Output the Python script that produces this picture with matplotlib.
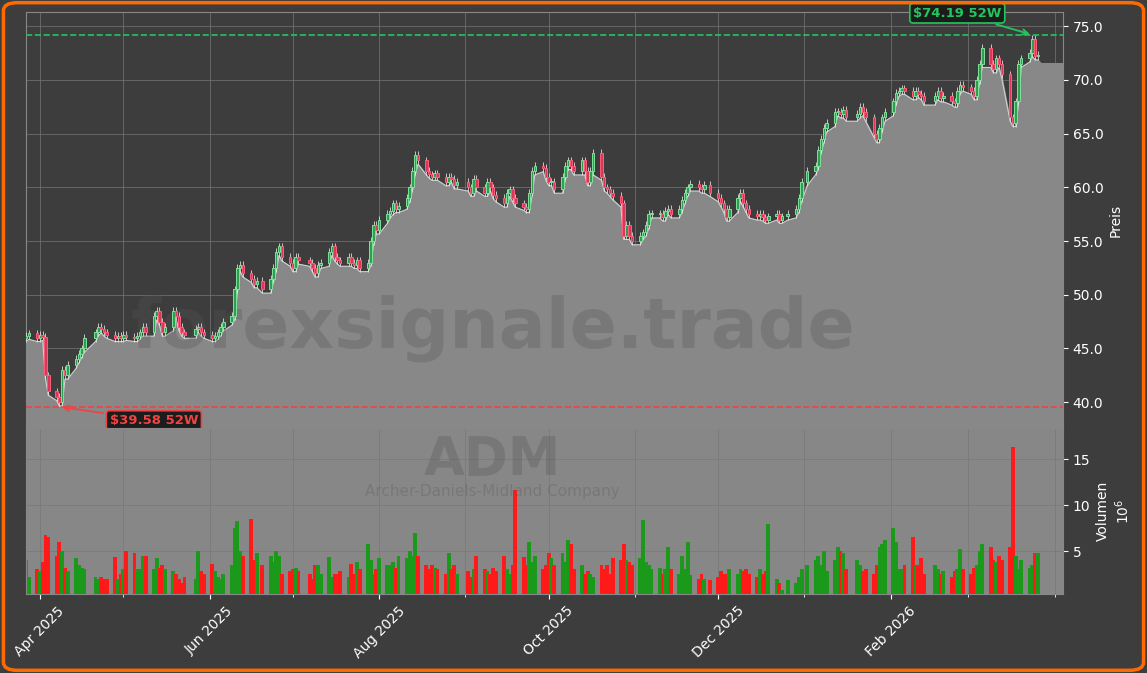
#!/usr/bin/env python3
"""ADM Kerzenchart mit Volumen."""

import matplotlib
matplotlib.use("Agg")
import matplotlib.dates as mdates
import matplotlib.pyplot as plt
import numpy as np
import pandas as pd
from matplotlib.patches import FancyBboxPatch

# Schlusskurse je Handelstag (USD), Woche fuer Woche
closes = [
    46.2, 46.4, 46.0, 46.3, 46.1,
    42.5, 41.0, 40.5, 40.0, 43.0, 42.5, 43.5,
    44.0, 44.5, 45.0, 46.0,
    46.5, 47.0, 46.8, 46.5, 46.3,
    46.0, 46.2, 46.0, 46.3, 46.1,
    46.0, 46.2, 46.5, 47.0, 46.5,
    48.0, 48.5, 47.5, 46.5, 47.0,
    48.5, 48.0, 47.0, 46.5, 46.3,
    46.8, 47.0, 46.5, 46.3,
    46.0, 46.2, 46.5, 47.0, 47.5,
    48.0, 50.5, 52.5, 52.8, 52.0,
    51.5, 51.0, 51.3, 50.5,
    51.5, 52.5, 54.0, 54.5, 53.5,
    53.0, 52.5, 53.5, 53.2,
    53.0, 52.5, 52.0, 52.8, 53.0,
    54.0, 54.5, 53.5, 53.2, 53.0,
    53.5, 53.0, 52.8, 53.2, 52.5,
    53.0, 55.0, 56.5, 56.0, 57.0,
    57.5, 57.8, 58.5, 58.0, 58.3,
    59.0, 60.0, 61.5, 63.0, 62.5,
    61.5, 61.2, 61.0, 61.3, 61.0,
    60.5, 61.0, 60.8, 60.2, 60.5,
    60.0, 59.5, 60.8, 60.0,
    59.5, 60.5, 60.0, 59.3, 59.0,
    58.5, 59.5, 59.8, 59.0, 58.5,
    58.2, 58.0, 59.5, 61.5, 62.0,
    61.8, 61.0, 60.5, 60.5, 59.8,
    61.0, 62.0, 62.5, 62.0, 61.5,
    62.5, 61.5, 60.5, 61.5, 63.2,
    61.0, 60.0, 59.8, 59.5, 59.2,
    58.5, 55.5, 56.5, 55.5, 55.0,
    55.5, 55.8, 56.5, 57.5, 57.5,
    57.5, 57.2, 57.8, 58.0, 57.5,
    58.0, 58.8, 59.5, 60.0, 60.3,
    60.0, 59.8, 60.2, 59.5,
    59.0, 58.5, 58.0, 57.2, 58.0,
    59.0, 59.5, 58.5, 58.0, 57.5,
    57.3, 57.5, 57.2, 57.0, 57.3,
    57.5, 57.0, 57.3, 57.5,
    58.0, 59.0, 60.5, 61.5,
    62.0, 63.5, 64.5, 65.5, 66.0,
    67.0, 67.0, 66.8, 67.2, 66.5,
    66.8, 67.5, 67.0, 66.5,
    65.0, 64.5, 65.5, 66.5, 67.0,
    68.0, 68.8, 69.0, 69.2, 69.0,
    68.5, 69.0, 68.7, 68.5, 68.0,
    68.5, 69.0, 68.3, 68.5,
    68.0, 67.8, 69.0, 69.5, 69.3,
    69.0, 68.5, 70.0, 71.5, 73.0,
    71.5, 71.0, 72.0, 71.5, 70.5,
    66.5, 66.0, 68.0, 71.5, 72.0,
    72.5, 73.8, 72.2, 72.3,
]

# Volumen in Mio. Stueck
volumes = [
    4.0, 2.2, 3.0, 2.8, 3.8,
    6.8, 6.5, 4.5, 6.0, 5.0, 3.2, 2.8,
    4.2, 3.5, 3.2, 3.0,
    2.2, 2.0, 2.2, 2.0, 2.0,
    4.4, 2.0, 2.5, 3.0, 5.0,
    4.8, 3.0, 3.0, 4.5, 4.5,
    3.0, 4.2, 3.2, 3.5, 3.0,
    2.8, 2.5, 2.0, 1.5, 2.2,
    2.0, 5.0, 2.8, 2.5,
    3.6, 2.8, 2.2, 2.0, 2.5,
    3.5, 7.5, 8.3, 5.0, 4.5,
    8.5, 4.0, 4.8, 3.5,
    4.5, 3.8, 5.0, 4.5, 2.5,
    2.8, 3.0, 3.2, 2.8,
    2.5, 2.0, 3.5, 3.5, 2.5,
    4.4, 2.2, 2.5, 2.5, 2.8,
    2.2, 3.6, 2.5, 3.8, 3.0,
    5.8, 4.0, 2.5, 3.0, 4.2,
    3.5, 3.5, 3.8, 3.2, 4.5,
    4.2, 5.0, 4.5, 7.0, 4.5,
    3.5, 3.0, 3.5, 3.2, 3.0,
    2.5, 4.8, 3.0, 3.5, 2.5,
    2.8, 2.2, 3.0, 4.5,
    3.0, 2.8, 2.5, 3.2, 2.8,
    4.5, 3.0, 2.5, 3.5, 11.7,
    4.4, 3.5, 6.0, 3.8, 4.5,
    3.0, 3.5, 4.8, 4.2, 3.5,
    4.8, 3.8, 6.2, 5.8, 3.0,
    3.5, 2.5, 2.8, 2.5, 2.2,
    3.5, 3.0, 3.5, 2.5, 4.2,
    4.0, 5.8, 4.0, 3.8, 3.5,
    4.2, 8.4, 3.8, 3.5, 3.0,
    3.2, 2.5, 3.0, 5.4, 3.0,
    2.5, 4.5, 3.0, 6.0, 2.4,
    2.0, 2.5, 2.0, 1.8,
    2.2, 2.8, 2.5, 2.5, 3.0,
    2.5, 3.0, 2.8, 3.0, 2.5,
    2.2, 3.0, 2.5, 2.8, 7.9,
    2.0, 1.5, 0.8, 1.8,
    1.5, 2.2, 3.0, 3.5,
    4.0, 4.5, 3.5, 5.0, 2.8,
    4.0, 5.5, 5.0, 4.8, 3.0,
    4.0, 3.5, 2.8, 3.0,
    2.5, 3.5, 5.5, 5.8, 6.2,
    7.5, 6.0, 3.0, 3.0, 3.5,
    6.5, 3.5, 3.5, 4.2, 2.5,
    3.5, 3.0, 2.5, 2.8,
    2.2, 2.8, 3.0, 5.2, 3.0,
    2.5, 3.2, 3.5, 5.0, 5.8,
    5.5, 4.0, 3.8, 4.5, 4.0,
    5.5, 16.3, 4.5, 3.0, 4.0,
    3.2, 3.5, 4.8, 4.8,
]

holidays = ["2025-04-18", "2025-05-26", "2025-06-19", "2025-07-04", "2025-09-01",
            "2025-11-27", "2025-12-25", "2026-01-01", "2026-01-19", "2026-02-16"]
month_ticks = ["2025-04-01", "2025-06-01", "2025-08-01", "2025-10-01", "2025-12-01", "2026-02-01"]
low_52w = 39.58
high_52w = 74.19
low_date = "2025-04-08"
high_date = "2026-03-24"

assert len(closes) == len(volumes)

BG = "#3d3d3d"
GREEN = "#22c55e"
RED = "#ef4444"

bday = pd.offsets.CustomBusinessDay(holidays=holidays)
dates = pd.date_range("2025-03-27", periods=len(closes), freq=bday)
c = np.array(closes)
o = np.concatenate([[46.0], c[:-1]])
h = np.maximum(o, c) + 0.35
l = np.minimum(o, c) - 0.35
up = c >= o
x = mdates.date2num(dates)

fig = plt.figure(figsize=(11.47, 6.73), dpi=100, facecolor=BG)
border = FancyBboxPatch((0.003, 0.004), 0.994, 0.992, boxstyle="round,pad=0,rounding_size=0.012",
                        transform=fig.transFigure, fill=False, edgecolor="#ff6a00", linewidth=2.5)
fig.patches.append(border)

ax = fig.add_axes([0.0227, 0.364, 0.904, 0.618], facecolor=BG)
axv = fig.add_axes([0.0227, 0.1174, 0.904, 0.2466], facecolor="#878787", sharex=ax)

xmin = mdates.date2num(pd.Timestamp("2025-03-27"))
xmax = mdates.date2num(pd.Timestamp("2026-04-04"))

# Flaeche unter den Tiefs
fx = np.concatenate([x, [x[-1] + 1, xmax]])
fl = np.concatenate([l, [l[-1] - 0.3, l[-1] - 0.3]])
ax.fill_between(fx, fl, 30, color="#888888", zorder=1)
ax.plot(x, l, color="#d0d0d0", linewidth=0.8, zorder=2)

# Kerzen
w = 0.9
for xi, oi, hi, li, ci, u in zip(x, o, h, l, c, up):
    col = "#7ee29a" if u else "#ff5c7a"
    ax.vlines(xi, li, hi, color="#e8e8e8", linewidth=0.7, alpha=0.8, zorder=3)
    ax.bar(xi, max(abs(ci - oi), 0.08), bottom=min(oi, ci), width=w,
           color="#2e9e4f" if u else "#d63a5a", edgecolor=col, linewidth=0.7, zorder=4)

ax.axhline(high_52w, color=GREEN, linestyle="--", linewidth=1.2, zorder=5)
ax.axhline(low_52w, color=RED, linestyle="--", linewidth=1.2, zorder=5)

ax.annotate(f"${low_52w:.2f} 52W", xy=(mdates.date2num(pd.Timestamp(low_date)), low_52w),
            xytext=(mdates.date2num(pd.Timestamp("2025-05-12")), 38.3), color=RED,
            fontsize=9.5, fontweight="bold", ha="center", va="center", zorder=6,
            bbox=dict(boxstyle="round,pad=0.25", fc="#1c1c1c", ec=RED, lw=1.2),
            arrowprops=dict(arrowstyle="->", color=RED, lw=1.3))
ax.annotate(f"${high_52w:.2f} 52W", xy=(mdates.date2num(pd.Timestamp(high_date)), high_52w),
            xytext=(mdates.date2num(pd.Timestamp("2026-02-25")), 76.2), color=GREEN,
            fontsize=9.5, fontweight="bold", ha="center", va="center", zorder=6,
            bbox=dict(boxstyle="round,pad=0.25", fc="#1c1c1c", ec=GREEN, lw=1.2),
            arrowprops=dict(arrowstyle="->", color=GREEN, lw=1.3))

ax.text(0.45, 0.24, "forexsignale.trade", transform=ax.transAxes, fontsize=50,
        fontweight="bold", color="#555555", alpha=0.3, ha="center", va="center", zorder=2)
axv.text(0.45, 0.81, "ADM", transform=axv.transAxes, fontsize=38, fontweight="bold",
         color="#555555", alpha=0.3, ha="center", va="center")
axv.text(0.45, 0.62, "Archer-Daniels-Midland Company", transform=axv.transAxes, fontsize=11,
         color="#555555", alpha=0.3, ha="center", va="center")

ax.set_ylim(37.6, 76.3)
ax.set_xlim(xmin, xmax)
ax.yaxis.tick_right()
ax.yaxis.set_label_position("right")
ax.set_ylabel("Preis", color="white")
ax.set_yticks([40, 45, 50, 55, 60, 65, 70, 75])
ax.yaxis.set_major_formatter(matplotlib.ticker.FormatStrFormatter("%.1f"))

vcol = ["#1a991a" if u else "#ff1a1a" for u in up]
axv.bar(x, volumes, width=1.4, color=vcol)
axv.set_ylim(0.33, 18.4)
axv.set_yticks([5, 10, 15])
axv.yaxis.tick_right()
axv.yaxis.set_label_position("right")
axv.set_ylabel("Volumen\n$10^6$", color="white")

axv.xaxis.set_major_locator(matplotlib.ticker.FixedLocator(mdates.date2num(pd.to_datetime(month_ticks))))
axv.xaxis.set_minor_locator(mdates.MonthLocator())
axv.xaxis.set_major_formatter(mdates.DateFormatter("%b %Y"))
plt.setp(ax.get_xticklabels(), visible=False)
plt.setp(axv.get_xticklabels(), rotation=45, ha="center")

for a in (ax, axv):
    a.tick_params(colors="white", labelsize=10)
    a.tick_params(which="minor", colors="white")
    a.grid(True, which="both", color="#777777", linewidth=0.7, alpha=0.7)
    a.set_axisbelow(True)
    for s in a.spines.values():
        s.set_color("#888888")
ax.tick_params(axis="x", which="both", length=0)

fig.savefig("out.png", dpi=100, facecolor=BG)
